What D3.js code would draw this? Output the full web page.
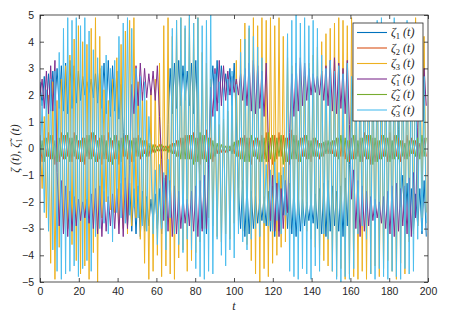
<!DOCTYPE html>
<html><head><meta charset="utf-8">
<script src="https://cdn.jsdelivr.net/npm/d3@7"></script>
<style>body{margin:0;background:#fff}</style>
</head><body>
<svg id="c" width="449" height="315"></svg>
<script>
// ---- data ----
const xTicks = [0, 20, 40, 60, 80, 100, 120, 140, 160, 180, 200];
const yTicks = [-5, -4, -3, -2, -1, 0, 1, 2, 3, 4, 5];
const sampleStep = 1.1;   // time between stored samples
const seriesNames = ["ζ1", "ζ2", "ζ3", "ζ̃1", "ζ̃2", "ζ̃3"];
const seriesColors = ["#0072BD", "#D95319", "#EDB120", "#7E2F8E", "#77AC30", "#4DBEEE"];

const zeta1 = [2.5,1.6,2.7,1.5,2.8,1.4,2.9,1.6,3.0,1.5,
3.1,1.4,3.2,1.3,3.3,1.5,3.1,1.7,2.9,1.8,
2.7,2.0,2.5,2.1,2.6,1.9,2.8,1.7,3.0,1.5,
3.2,1.3,3.3,1.2,3.1,1.4,2.9,1.1,2.4,0.6,
-1.4,-2.9,-1.3,-3.1,-1.5,-3.2,-1.4,-3.3,-1.6,-3.1,
-1.8,-2.9,-1.9,-2.7,-1.7,-3.0,-1.5,-3.2,-1.1,-2.6,
0.9,3.0,1.3,3.2,1.5,3.3,1.6,3.1,1.8,2.9,1.6,3.2,1.3,3.3,0.9,
-1.6,-3.0,-1.3,-3.2,-0.8,
1.9,3.1,1.5,3.3,1.7,3.1,1.9,2.8,2.0,3.0,1.6,3.2,1.0,
-1.5,-3.0,-1.2,-3.3,-1.4,-3.2,-1.6,-3.0,-1.8,-2.8,-1.9,-2.7,-1.8,-2.9,-1.6,-3.1,-1.4,-3.3,-1.3,-3.1,-1.0,-2.5,
-1.2,-3.0,-1.3,-3.2,-1.5,-3.3,-1.7,-3.1,-1.9,-2.9,-2.0,-2.7,-1.9,-2.8,-1.7,-3.0,-1.5,-3.2,-1.3,-3.3,-1.2,-3.1,-1.4,-2.9,-1.6,-3.1,-1.4,-3.3,-1.1,-2.9,-0.6,
1.4,2.9,1.3,3.2,1.5,3.3,1.7,3.1,1.9,2.9,2.0,2.8,1.9,3.0,1.7,3.2,1.5,3.3,1.3,3.1,1.2,3.3,0.7,
-2.2,-1.0,-3.1,-1.3,-3.3,-1.5,-3.1,-1.7,-2.9,-1.5,-3.2,-1.2,-3.3];

const zeta2 = [0.3,-0.5,0.4,-0.3,0.6,-0.4,0.5,-0.6,0.4,-0.5,
0.6,-0.4,0.5,-0.3,0.4,-0.5,0.6,-0.4,0.3,-0.5,
0.4,-0.6,0.5,-0.4,0.6,-0.3,0.5,-0.5,0.4,-0.6,
0.5,-0.4,0.6,-0.5,0.3,-0.4,0.5,-0.6,0.4,-0.3,
0.5,-0.4,0.3,-0.5,0.4,-0.3,0.5,-0.4,0.3,-0.2,
0.3,-0.3,0.2,-0.15,0.15,-0.1,0.15,-0.1,0.1,-0.1,
0.1,-0.15,0.2,-0.2,0.3,-0.3,0.4,-0.4,0.5,-0.4,
0.5,-0.4,0.6,-0.5,0.4,-0.6,0.5,-0.4,0.7,-0.5,
0.4,-0.5,0.3,-0.2,0.2,-0.15,0.1,-0.15,0.1,-0.1,
0.2,-0.2,0.3,-0.3,0.4,-0.4,0.5,-0.5,0.4,-0.6,
0.3,-0.3,0.4,-0.5,0.5,-0.4,0.6,-0.5,0.4,-0.6,
0.5,-0.4,0.6,-0.3,0.5,-0.5,0.4,-0.6,0.7,-0.4,
0.5,-0.5,0.4,-0.3,0.5,-0.4,0.3,-0.5,0.4,-0.3,
0.3,-0.4,0.2,-0.3,0.3,-0.2,0.25,-0.2,0.3,-0.3,
0.4,-0.3,0.5,-0.4,0.3,-0.5,0.4,-0.4,0.5,-0.3,
0.4,-0.5,0.6,-0.4,0.5,-0.6,0.4,-0.5,0.3,-0.4,
0.5,-0.3,0.4,-0.5,0.6,-0.4,0.5,-0.3,0.4,-0.5,
0.3,-0.4,0.5,-0.3,0.4,-0.2,0.3,-0.3,0.2,-0.3,
0.4,-0.3];

const zeta3 = [0.5,-1.5,1.2,-2.6,2.0,-4.3,2.5,-4.9,1.8,
-3.7,2.6,-3.2,3.1,-3.0,3.5,
-3.6,4.1,-4.2,4.6,-4.7,4.0,-4.4,3.9,-4.9,4.5,-3.9,4.9,-5.0,4.2,
-2.6,2.2,-2.0,1.8,-2.3,2.6,
-2.4,3.4,-2.8,3.9,-3.0,4.4,-3.2,4.8,-2.9,4.9,-2.6,
2.5,-3.4,2.1,-4.3,1.8,-4.9,2.2,-4.6,2.6,-4.0,
3.2,-4.8,4.6,-4.4,4.9,-4.7,4.2,-4.9,4.8,-4.1,4.9,-3.8,4.5,-4.6,4.9,-4.2,4.7,-3.9,4.9,-3.5,
3.6,-3.0,3.2,-2.6,2.6,
-2.9,1.3,-3.3,0.9,-3.5,1.1,-3.2,1.4,-3.4,1.6,-2.8,
3.3,-2.7,4.1,-3.1,4.7,-3.6,
4.5,-4.2,4.9,-4.7,4.6,-5.0,4.9,-4.5,4.8,-4.8,4.9,-4.3,4.6,-4.0,4.9,-3.7,4.2,-3.5,
3.4,-3.0,3.1,-2.7,2.8,-2.5,3.0,-2.8,2.7,-3.1,
3.2,-3.4,3.5,-3.7,3.8,-4.0,4.0,-4.2,4.3,-4.4,4.5,
-4.6,4.7,-4.8,4.9,-4.5,4.8,-4.9,4.6,-4.7,4.9,-4.8,4.4,-4.9,4.2,-4.6,4.0,-4.9,3.8,-4.7,
3.5,-4.4,3.2,-4.8,3.0,-4.5,3.3,-4.2,3.6,-4.6,3.8,-4.9,3.5,-4.3,3.9,-4.7,4.1,
-3.5,4.6,-3.2,4.9,-2.9,4.5,-2.6,4.2,-2.4];

const zetaT1 = [2.0,2.6,1.5,2.9,1.3,3.1,1.4,3.3,
-0.9,-2.9,-1.2,-3.2,-1.4,-3.3,-1.6,-3.1,-1.8,-2.9,-1.9,-2.7,-2.0,-2.6,-1.9,-2.8,-1.7,-3.0,-1.5,-3.2,-1.4,-3.3,-1.6,-3.1,-1.8,-2.9,-1.7,-3.0,-1.5,-3.2,-1.3,-3.3,-1.1,-3.0,-0.6,
2.4,1.3,3.1,1.6,3.2,1.8,3.0,1.9,2.8,2.0,2.9,1.8,3.1,1.2,
-0.4,-2.7,-1.0,-3.1,-1.2,-3.3,-1.4,-3.2,-1.6,-3.0,-1.8,-2.8,-1.9,-2.9,-1.6,-3.1,-1.4,-3.3,-1.2,-3.1,-1.0,-3.0,-0.6,
2.3,1.2,3.0,1.4,3.3,1.6,3.1,1.8,2.9,2.0,2.7,2.1,2.6,2.0,2.8,1.8,3.0,1.6,3.2,1.4,3.3,1.3,3.1,1.5,2.9,1.2,3.2,
0.3,-2.7,-1.0,-3.1,-1.3,-3.3,-1.5,-3.0,-1.2,-2.4,
0.6,2.8,1.2,3.2,1.4,3.4,1.6,3.2,1.8,3.0,2.0,2.8,2.1,2.7,2.0,2.9,1.8,3.1,1.6,3.3,1.4,3.4,1.3,3.2,1.5,3.0,1.3,3.3,0.9,
-1.9,-0.8,-3.0,-1.2,-3.3,-1.4,-3.1,-1.6,-2.9,-1.8,-2.7,-1.9,-2.6,-2.0,-2.8,-1.8,-3.0,-1.6,-3.2,-1.4,-3.3,-1.3,-3.1,-1.5,-2.9,-1.4,-3.2,-1.1,-3.3,-0.9,-2.6,
0.8,2.6,1.3,3.0,1.6];

const zetaT2 = [-0.4,0.3,-0.5,0.4,-0.3,0.5,-0.4,0.3,-0.5,0.4,
-0.3,0.5,-0.4,0.6,-0.5,0.4,-0.3,0.5,-0.4,0.3,
-0.5,0.4,-0.3,0.5,-0.4,0.6,-0.5,0.3,-0.4,0.5,
-0.4,0.3,-0.5,0.4,-0.6,0.5,-0.4,0.3,-0.5,0.4,
-0.3,0.5,-0.4,0.3,-0.5,0.4,-0.3,0.4,-0.3,0.3,
-0.3,0.2,-0.2,0.15,-0.15,0.1,-0.1,0.15,-0.1,0.1,
-0.15,0.15,-0.2,0.2,-0.3,0.3,-0.4,0.4,-0.4,0.5,
-0.4,0.5,-0.6,0.4,-0.5,0.6,-0.4,0.5,-0.5,0.4,
-0.4,0.3,-0.3,0.2,-0.2,0.15,-0.1,0.1,-0.15,0.1,
-0.2,0.25,-0.3,0.3,-0.4,0.4,-0.5,0.4,-0.5,0.5,
-0.3,0.4,-0.4,0.3,-0.5,0.4,-0.5,0.6,-0.4,0.5,
-0.5,0.4,-0.3,0.5,-0.6,0.4,-0.5,0.3,-0.4,0.5,
-0.4,0.3,-0.5,0.4,-0.3,0.5,-0.4,0.3,-0.3,0.4,
-0.3,0.2,-0.3,0.25,-0.2,0.3,-0.2,0.3,-0.3,0.4,
-0.4,0.5,-0.3,0.4,-0.5,0.3,-0.4,0.5,-0.4,0.3,
-0.5,0.4,-0.3,0.5,-0.4,0.5,-0.6,0.4,-0.5,0.3,
-0.4,0.5,-0.3,0.4,-0.5,0.3,-0.4,0.5,-0.4,0.3,
-0.3,0.2,-0.4,0.3,-0.2,0.3,-0.3,0.4,-0.4,0.5,
-0.3,0.4];

const zetaT3 = [-1.0,1.8,-2.4,2.2,-3.1,2.6,-3.8,2.9,-4.6,
3.6,-4.9,4.5,-4.7,4.9,-4.6,4.8,-4.4,4.9,-4.8,4.6,-4.5,4.9,-4.2,4.4,-4.6,
3.7,-3.3,3.4,-3.0,3.1,-2.8,3.5,-3.2,3.0,-3.5,3.3,
-2.4,4.2,-2.6,4.7,-2.8,4.9,-2.5,4.5,-2.2,
3.0,-2.6,2.7,-2.9,2.5,-3.1,1.2,
-0.5,-3.2,-0.8,-3.6,-0.6,-3.0,-0.9,-3.8,-0.4,-2.6,
4.5,-3.2,4.8,-3.6,4.9,-3.9,4.6,-3.4,5.0,-3.8,4.7,
-4.5,4.9,-4.8,4.6,-4.9,4.8,-4.6,5.0,-4.7,
2.8,-3.4,2.5,-4.0,2.2,-4.4,2.6,-3.8,2.9,-4.1,2.4,
-3.2,3.6,-3.5,4.1,-3.8,4.6,-3.4,4.2,-3.0,3.8,-3.3,3.4,-2.8,
-0.6,-2.9,-0.8,-3.1,-0.5,-2.7,-0.9,-3.2,-0.7,-2.5,
4.3,-4.6,4.8,-4.8,5.0,-4.9,4.7,-4.5,4.9,-4.7,4.6,-4.9,4.8,-4.4,4.5,-4.6,
3.5,-3.2,3.0,-3.4,3.3,
-4.6,2.9,-4.9,3.1,-5.0,2.8,-4.8,3.2,-4.9,2.7,-4.5,
3.0,-3.2,2.8,-2.9,3.1,-3.4,
4.4,-4.7,4.6,-4.9,4.8,-4.5,4.9,-4.8,4.5,-4.9,4.7,-4.6,4.9,-4.8,4.4,-4.9,4.6,-4.5,4.8,-4.7,4.3,-4.6,4.1,
-3.4,3.0,-3.1,2.7,-2.8];

const seriesValues = [zeta1, zeta2, zeta3, zetaT1, zetaT2, zetaT3];

// ---- drawing ----
const svg = d3.select("#c");
const L = 40, R = 428, T = 15, B = 282;
const x = d3.scaleLinear().domain([0, 200]).range([L, R]);
const y = d3.scaleLinear().domain([-5, 5]).range([B, T]);
const axisColor = "#262626";

svg.append("rect").attr("x", 0).attr("y", 0).attr("width", 449).attr("height", 315).attr("fill", "#fff");

svg.append("defs").append("clipPath").attr("id", "clip")
  .append("rect").attr("x", L).attr("y", T).attr("width", R - L).attr("height", B - T);

const line = d3.line().x((d, i) => x(i * sampleStep)).y(d => y(d));
const g = svg.append("g").attr("clip-path", "url(#clip)");
seriesValues.forEach((vals, k) => {
  g.append("path").datum(vals)
    .attr("d", line)
    .attr("fill", "none")
    .attr("stroke", seriesColors[k])
    .attr("stroke-width", 1.0);
});

function styleAxis(sel, showLabels) {
  sel.select(".domain").remove();
  sel.selectAll(".tick line").attr("stroke", axisColor).attr("stroke-width", 0.8);
  sel.selectAll(".tick text")
    .attr("fill", axisColor)
    .attr("font-family", "Liberation Sans, Arial, sans-serif")
    .attr("font-size", 10.5);
  if (!showLabels) sel.selectAll(".tick text").remove();
}

svg.append("g").attr("transform", `translate(0,${B})`)
  .call(d3.axisBottom(x).tickValues(xTicks).tickSizeInner(-4).tickSizeOuter(0).tickPadding(6).tickFormat(d3.format("d")))
  .call(s => styleAxis(s, true));
svg.append("g").attr("transform", `translate(0,${T})`)
  .call(d3.axisTop(x).tickValues(xTicks).tickSizeInner(-4).tickSizeOuter(0))
  .call(s => styleAxis(s, false));
svg.append("g").attr("transform", `translate(${L},0)`)
  .call(d3.axisLeft(y).tickValues(yTicks).tickSizeInner(-4).tickSizeOuter(0).tickPadding(6).tickFormat(d3.format("d")))
  .call(s => styleAxis(s, true));
svg.append("g").attr("transform", `translate(${R},0)`)
  .call(d3.axisRight(y).tickValues(yTicks).tickSizeInner(-4).tickSizeOuter(0))
  .call(s => styleAxis(s, false));

svg.append("rect").attr("x", L).attr("y", T).attr("width", R - L).attr("height", B - T)
  .attr("fill", "none").attr("stroke", axisColor).attr("stroke-width", 0.8);

// axis labels
const serif = "Liberation Serif, DejaVu Serif, serif";
svg.append("text").attr("x", (L + R) / 2).attr("y", 310)
  .attr("text-anchor", "middle").attr("font-family", serif).attr("font-style", "italic")
  .attr("font-size", 12).attr("fill", axisColor).text("t");

const yl = svg.append("text")
  .attr("transform", `translate(19,${(T + B) / 2}) rotate(-90)`)
  .attr("text-anchor", "middle").attr("font-family", serif).attr("font-style", "italic")
  .attr("font-size", 12).attr("fill", axisColor);
yl.append("tspan").text("ζ (t), ζ̃");
yl.append("tspan").attr("font-size", 8.5).attr("dy", 3).attr("font-style", "normal").text("1");
yl.append("tspan").attr("dy", -3).text(" (t)");

// legend
const lg = svg.append("g");
lg.append("rect").attr("x", 353).attr("y", 23).attr("width", 70).attr("height", 98)
  .attr("fill", "#fff").attr("stroke", axisColor).attr("stroke-width", 0.8);
seriesNames.forEach((name, k) => {
  const cy = 32.5 + k * 15.5;
  lg.append("line").attr("x1", 357).attr("x2", 387).attr("y1", cy).attr("y2", cy)
    .attr("stroke", seriesColors[k]).attr("stroke-width", 1.1);
  const base = name.slice(0, name.length - 1);
  const sub = name.slice(name.length - 1);
  const tx = lg.append("text").attr("x", 391).attr("y", cy + 3.5)
    .attr("font-family", serif).attr("font-style", "italic").attr("font-size", 12).attr("fill", axisColor);
  tx.append("tspan").text(base);
  tx.append("tspan").attr("font-size", 8.5).attr("dy", 3).attr("font-style", "normal").text(sub);
  tx.append("tspan").attr("dy", -3).text(" (t)");
});
</script>
</body></html>
